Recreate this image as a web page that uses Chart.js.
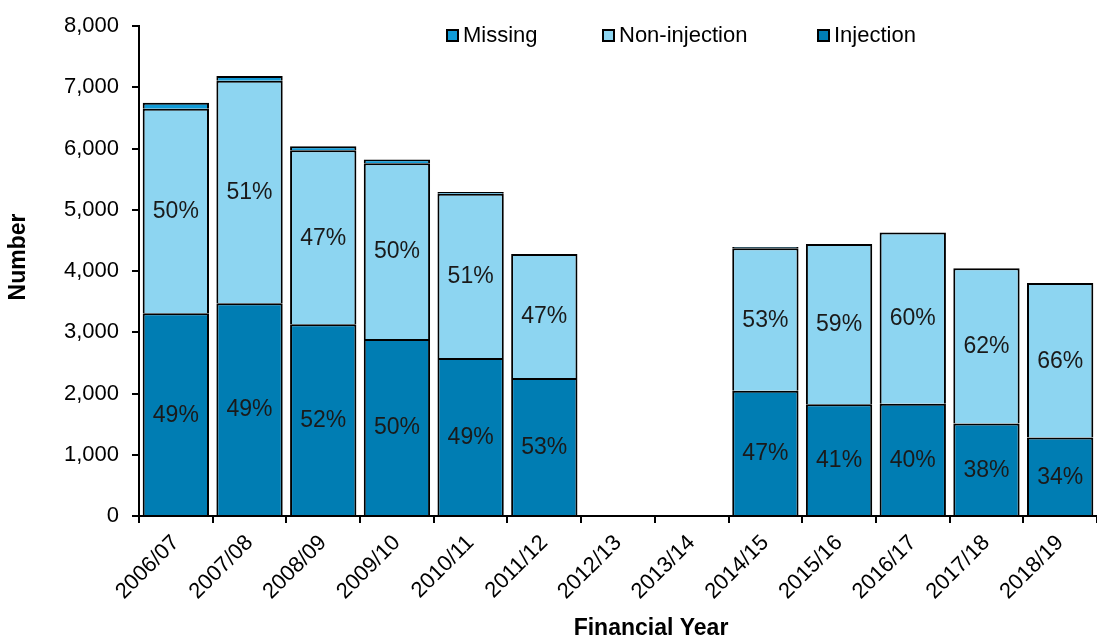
<!DOCTYPE html>
<html>
<head>
<meta charset="utf-8">
<script src="https://cdn.jsdelivr.net/npm/chart.js@4.4.1/dist/chart.umd.min.js"></script>
<style>
  html, body { margin: 0; padding: 0; background: #fff; }
  #wrap { position: relative; width: 1097px; height: 641px; }
  #legend { position: absolute; top: 21px; left: 0; width: 1097px; height: 30px;
            font-family: "Liberation Sans", Arial, sans-serif; font-size: 22px; color: #000; }
  .item { position: absolute; top: 0; display: flex; align-items: center; height: 28px; }
  .box { width: 9px; height: 9px; border: 2px solid #000; margin-right: 4px; }
</style>
</head>
<body>
<div id="wrap">
  <canvas id="c" width="1097" height="641"></canvas>
  <div id="legend"></div>
</div>
<script>
const categories = ['2006/07','2007/08','2008/09','2009/10','2010/11','2011/12','2012/13','2013/14','2014/15','2015/16','2016/17','2017/18','2018/19'];
const injection    = [3310, 3475, 3130, 2890, 2581, 2256, null, null, 2045, 1825, 1835, 1510, 1282];
const nonInjection = [3340, 3635, 2844, 2873, 2684, 2025, null, null, 2327, 2618, 2796, 2537, 2522];
const missing      = [100, 75, 65, 60, 25, null, null, null, 20, null, null, null, null];
const injectionPct    = ['49%','49%','52%','50%','49%','53%',null,null,'47%','41%','40%','38%','34%'];
const nonInjectionPct = ['50%','51%','47%','50%','51%','47%',null,null,'53%','59%','60%','62%','66%'];
const yTicks = [0, 1000, 2000, 3000, 4000, 5000, 6000, 7000, 8000];

const COL_INJ = '#007DB3';
const COL_NON = '#8DD5F1';
const COL_MIS = '#109BD7';
const FONT = '"Liberation Sans", Arial, sans-serif';

// HTML legend
const legendItems = [
  {label: 'Missing', color: COL_MIS, left: 446},
  {label: 'Non-injection', color: COL_NON, left: 602},
  {label: 'Injection', color: COL_INJ, left: 817}
];
const lg = document.getElementById('legend');
legendItems.forEach(it => {
  const d = document.createElement('div');
  d.className = 'item';
  d.style.left = it.left + 'px';
  const b = document.createElement('span');
  b.className = 'box';
  b.style.background = it.color;
  const t = document.createElement('span');
  t.textContent = it.label;
  d.appendChild(b); d.appendChild(t);
  lg.appendChild(d);
});

const labelPlugin = {
  id: 'segLabels',
  afterDatasetsDraw(chart) {
    const ctx = chart.ctx;
    ctx.save();
    ctx.font = '23px ' + FONT;
    ctx.fillStyle = '#1a1a1a';
    ctx.textAlign = 'center';
    ctx.textBaseline = 'middle';
    [[0, injectionPct], [1, nonInjectionPct]].forEach(([di, pcts]) => {
      const meta = chart.getDatasetMeta(di);
      meta.data.forEach((el, i) => {
        if (!pcts[i]) return;
        const p = el.getProps(['x', 'y', 'base'], true);
        ctx.fillText(pcts[i], p.x, (p.y + p.base) / 2 + 1);
      });
    });
    ctx.restore();
  },
  afterDraw(chart) {
    const ctx = chart.ctx;
    ctx.save();
    ctx.font = 'bold 23px ' + FONT;
    ctx.fillStyle = '#000';
    ctx.textAlign = 'center';
    ctx.textBaseline = 'middle';
    ctx.fillText('Financial Year', 651, 629);
    ctx.translate(19, 257);
    ctx.rotate(-Math.PI / 2);
    ctx.fillText('Number', 0, 0);
    ctx.restore();
  }
};

const ds = (label, data, color) => ({
  label, data, backgroundColor: color, borderColor: '#000',
  borderWidth: { top: 2, bottom: 0, left: 2, right: 2 },
  borderSkipped: false, barPercentage: 0.9, categoryPercentage: 1.0
});

new Chart(document.getElementById('c'), {
  type: 'bar',
  data: {
    labels: categories,
    datasets: [
      ds('Injection', injection, COL_INJ),
      ds('Non-injection', nonInjection, COL_NON),
      ds('Missing', missing, COL_MIS)
    ]
  },
  options: {
    responsive: false,
    animation: false,
    layout: { padding: { top: 23, right: 0, left: 0, bottom: 0 } },
    plugins: { legend: { display: false }, tooltip: { enabled: false } },
    scales: {
      x: {
        stacked: true,
        afterFit(scale) { scale.height = 125; },
        grid: { drawOnChartArea: false, offset: true, color: '#000', lineWidth: 2, tickLength: 7 },
        border: { color: '#000', width: 2 },
        ticks: { color: '#000', font: { family: FONT, size: 22 }, maxRotation: 45, minRotation: 45, padding: 7, autoSkip: false }
      },
      y: {
        stacked: true,
        min: 0, max: 8000,
        afterFit(scale) { scale.width = 139; },
        afterBuildTicks(scale) { scale.ticks = yTicks.map(v => ({ value: v })); },
        grid: { drawOnChartArea: false, color: '#000', lineWidth: 2, tickLength: 7 },
        border: { color: '#000', width: 2 },
        ticks: { color: '#000', font: { family: FONT, size: 22 }, padding: 13,
                 callback: v => v.toLocaleString('en-US') }
      }
    }
  },
  plugins: [labelPlugin]
});
</script>
</body>
</html>
